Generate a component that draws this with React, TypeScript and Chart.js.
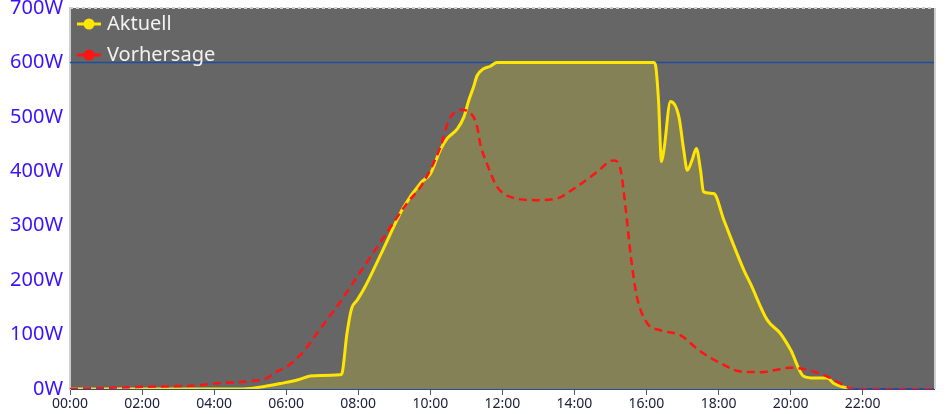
import React, { useEffect, useRef } from "react";
import { Chart, registerables } from "chart.js";

Chart.register(...registerables);

// ---- data ----
const aktuellLabel = "Aktuell";
const vorhersageLabel = "Vorhersage";

const aktuellTimes = [
  "00:00", "04:30", "05:00", "05:30", "05:50", "06:20", "06:40", "07:00", "07:30",
  "07:33", "07:41", "07:49", "07:58", "08:10", "08:40", "09:15", "09:45", "10:00",
  "10:17", "10:28", "10:45", "10:56", "11:04", "11:12", "11:18", "11:28", "11:40",
  "11:51", "16:12", "16:15", "16:20", "16:25", "16:29", "16:40", "16:54", "17:02",
  "17:08", "17:16", "17:23", "17:30", "17:35", "17:52", "18:09", "18:42", "18:53",
  "19:21", "19:43", "20:00", "20:22", "20:40", "21:01", "21:12", "21:40",
];
const aktuellValues = [
  0, 0, 1, 6, 10, 17, 24, 25, 26,
  29, 100, 148, 163, 185, 253, 333, 380, 395,
  440, 460, 478, 500, 530, 555, 576, 588, 593,
  600, 600, 595, 531, 418, 439, 528, 500, 439,
  402, 421, 442, 402, 362, 359, 310, 219, 194,
  127, 102, 72, 23, 20, 20, 10, 0,
];

const vorhersageTimes = [
  "00:00", "02:00", "03:36", "04:00", "05:05", "05:28", "05:40", "05:50", "06:01",
  "06:29", "06:51", "07:30", "08:04", "08:36", "09:21", "09:46", "10:17", "10:31",
  "10:50", "11:07", "11:18", "11:23", "11:34", "11:51", "12:13", "12:58", "13:31",
  "14:04", "14:38", "15:00", "15:06", "15:17", "15:25", "15:34", "15:44", "16:01",
  "16:23", "16:56", "17:30", "18:04", "18:37", "19:10", "20:00", "20:28", "21:01",
  "21:40", "21:45", "23:59",
];
const vorhersageValues = [
  0, 4, 7, 10, 15, 20, 29, 35, 41,
  69, 102, 160, 216, 268, 341, 375, 445, 494,
  513, 507, 482, 451, 415, 372, 353, 347, 350,
  372, 399, 419, 420, 402, 335, 243, 170, 121,
  108, 99, 69, 47, 32, 31, 39, 35, 23,
  1, 0, 0,
];

const yTickValues = [0, 100, 200, 300, 400, 500, 600, 700];
const xTickHours = [0, 2, 4, 6, 8, 10, 12, 14, 16, 18, 20, 22];
const maxPowerLine = 600;

const toHours = (s: string) => {
  const [h, m] = s.split(":").map(Number);
  return h + m / 60;
};
const pad2 = (n: number) => (n < 10 ? "0" + n : "" + n);

const plotStyle = {
  id: "plotStyle",
  beforeDraw(chart: any) {
    const { ctx, chartArea: a } = chart;
    ctx.save();
    ctx.fillStyle = "#666666";
    ctx.fillRect(a.left, a.top, a.right - a.left, a.bottom - a.top);
    ctx.restore();
  },
  beforeDatasetsDraw(chart: any) {
    const { ctx, chartArea: a, scales } = chart;
    const y = Math.round(scales.y.getPixelForValue(maxPowerLine)) + 0.5;
    ctx.save();
    ctx.strokeStyle = "#1f4f9c";
    ctx.lineWidth = 1.5;
    ctx.beginPath();
    ctx.moveTo(a.left, y);
    ctx.lineTo(a.right, y);
    ctx.stroke();
    // top dotted border
    ctx.strokeStyle = "#cfcfcf";
    ctx.lineWidth = 2;
    ctx.setLineDash([3, 3]);
    ctx.beginPath();
    ctx.moveTo(a.left, a.top);
    ctx.lineTo(a.right, a.top);
    ctx.stroke();
    ctx.setLineDash([]);
    // right border
    ctx.strokeStyle = "#d0d0d0";
    ctx.beginPath();
    ctx.moveTo(a.right + 1, a.top);
    ctx.lineTo(a.right + 1, a.bottom);
    ctx.stroke();
    ctx.restore();
  },
  afterDraw(chart: any) {
    const { ctx, chartArea: a } = chart;
    ctx.save();
    chart.data.datasets.forEach((ds: any, i: number) => {
      const cy = a.top + 16 + i * 31;
      const x0 = a.left + 7;
      ctx.strokeStyle = ds.borderColor;
      ctx.lineWidth = 3;
      ctx.beginPath();
      ctx.moveTo(x0, cy);
      ctx.lineTo(x0 + 24, cy);
      ctx.stroke();
      ctx.fillStyle = ds.borderColor;
      ctx.beginPath();
      ctx.arc(x0 + 12, cy, 5.5, 0, Math.PI * 2);
      ctx.fill();
      ctx.fillStyle = "#f2f2f2";
      ctx.font = '20px "Noto Sans"';
      ctx.textBaseline = "middle";
      ctx.textAlign = "left";
      ctx.fillText(ds.label, x0 + 30, cy);
    });
    ctx.restore();
  },
};

export default function App() {
  const ref = useRef<HTMLCanvasElement | null>(null);

  useEffect(() => {
    document.body.style.margin = "0";
    const canvas = ref.current!;
    const chart = new Chart(canvas, {
      type: "line",
      data: {
        datasets: [
          {
            label: aktuellLabel,
            data: aktuellTimes.map((t, i) => ({ x: toHours(t), y: aktuellValues[i] })),
            borderColor: "#ffe500",
            backgroundColor: "#858157",
            borderWidth: 3,
            fill: "origin",
            pointRadius: 0,
            cubicInterpolationMode: "monotone",
            order: 2,
          },
          {
            label: vorhersageLabel,
            data: vorhersageTimes.map((t, i) => ({ x: toHours(t), y: vorhersageValues[i] })),
            borderColor: "#ff1414",
            backgroundColor: "#ff1414",
            borderWidth: 2.5,
            borderDash: [8, 5],
            fill: false,
            pointRadius: 0,
            cubicInterpolationMode: "monotone",
            order: 1,
          },
        ],
      },
      options: {
        responsive: false,
        animation: false,
        layout: { padding: { top: 8, right: 18, left: 0, bottom: 0 } },
        plugins: {
          legend: { display: false },
          tooltip: { enabled: false },
        },
        scales: {
          x: {
            type: "linear",
            min: 0,
            max: 23.98,
            afterBuildTicks: (s: any) => {
              s.ticks = xTickHours.map((v) => ({ value: v }));
            },
            afterFit: (s: any) => {
              s.height = 25;
              s.paddingLeft = 0;
              s.paddingRight = 0;
            },
            ticks: {
              autoSkip: false,
              maxRotation: 0,
              padding: 1,
              color: "#202040",
              font: { family: "Noto Sans", size: 14 },
              callback: (v: any) => pad2(Number(v)) + ":00",
            },
            grid: {
              display: true,
              drawOnChartArea: false,
              drawTicks: true,
              tickLength: 6,
              color: "#555566",
            },
            border: { display: true, color: "#1f4f9c", width: 2 },
          },
          y: {
            type: "linear",
            min: 0,
            max: 700,
            afterBuildTicks: (s: any) => {
              s.ticks = yTickValues.map((v) => ({ value: v }));
            },
            afterFit: (s: any) => {
              s.width = 70;
              s.paddingTop = 0;
              s.paddingBottom = 0;
            },
            ticks: {
              padding: 7,
              color: "#3b12ff",
              font: { family: "Noto Sans", size: 20 },
              callback: (v: any) => v + "W",
            },
            grid: { display: false, drawTicks: false },
            border: { display: true, color: "#cccccc", width: 2 },
          },
        },
      },
      plugins: [plotStyle],
    } as any);
    return () => chart.destroy();
  }, []);

  return <canvas ref={ref} width={952} height={414} style={{ display: "block" }} />;
}
